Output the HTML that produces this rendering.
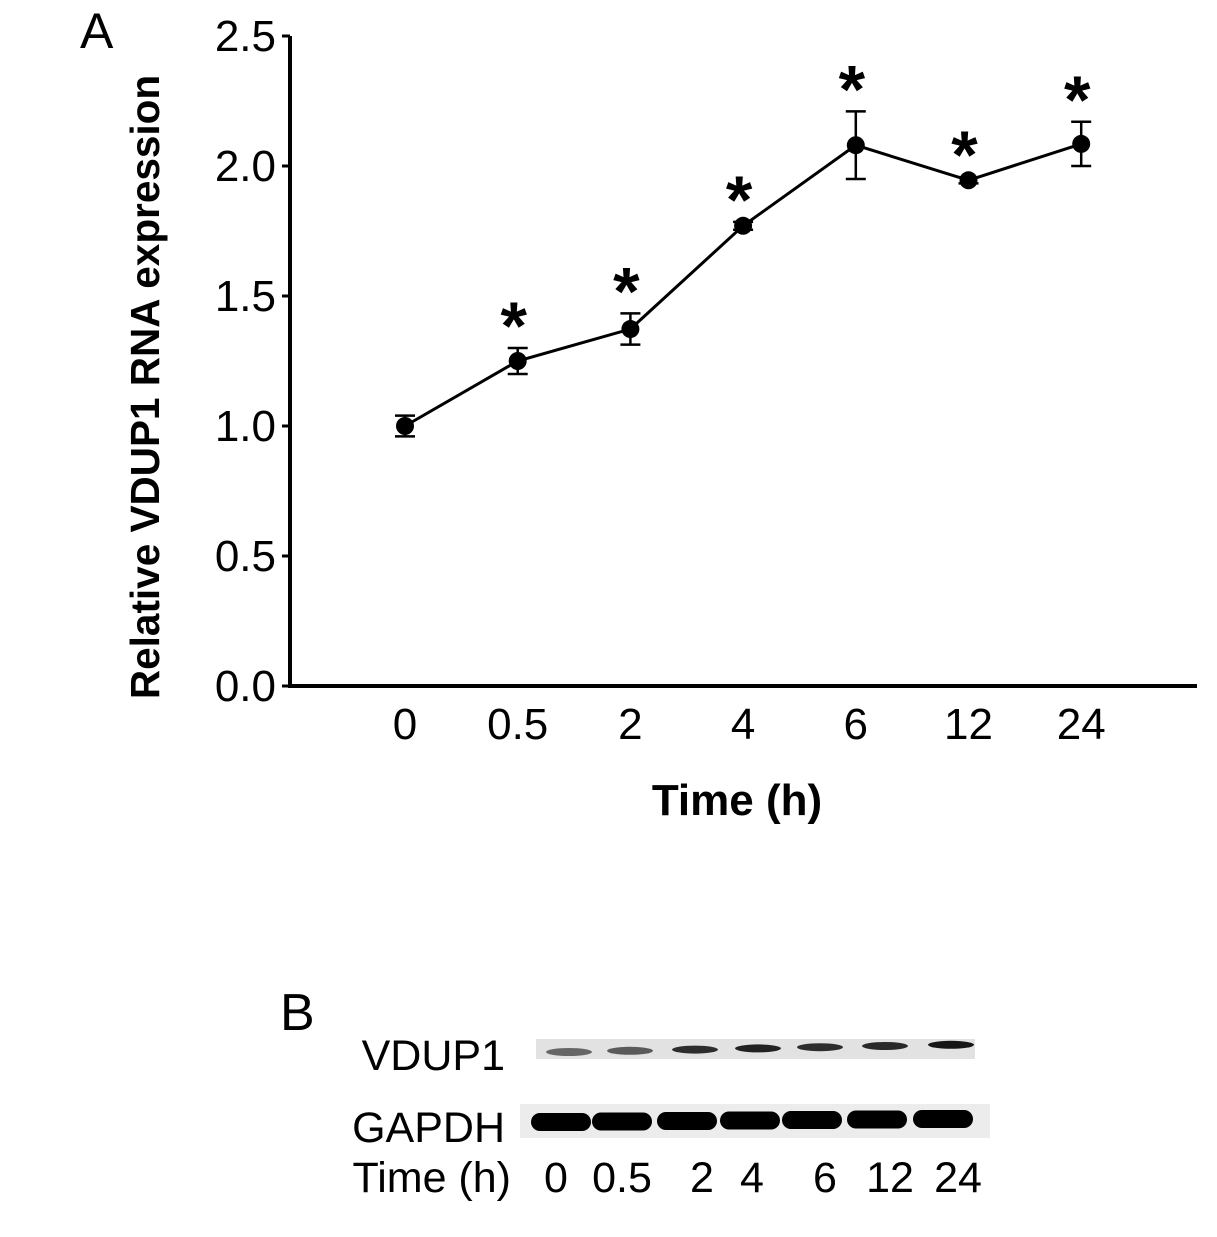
<!DOCTYPE html>
<html><head><meta charset="utf-8"><style>
body{margin:0;background:#fff;}
svg{display:block;font-family:"Liberation Sans",Arial,sans-serif;}
</style></head><body>
<svg id="chart" width="1217" height="1237" viewBox="0 0 1217 1237">
<text x="80" y="48" font-size="50">A</text>
<g id="axes"></g>
<g id="series"></g>
<text transform="translate(159,387) rotate(-90)" text-anchor="middle" font-size="40.5" font-weight="bold">Relative VDUP1 RNA expression</text>
<text x="737" y="815" text-anchor="middle" font-size="44" font-weight="bold">Time (h)</text>

<text x="280" y="1030" font-size="52">B</text>
<text x="505" y="1070" text-anchor="end" font-size="43">VDUP1</text>
<text x="505" y="1142" text-anchor="end" font-size="43">GAPDH</text>
<text x="511" y="1192" text-anchor="end" font-size="43">Time (h)</text>
<rect x="536" y="1039" width="439" height="20" fill="#e2e2e2"/>
<rect x="520" y="1104" width="470" height="34" fill="#ececec"/>
<g id="blot"></g>
</svg>
<script>
const categories=["0","0.5","2","4","6","12","24"];
const means=[1.0,1.25,1.373,1.77,2.08,1.945,2.085];
const errors=[0.04,0.05,0.06,0.015,0.13,0.012,0.085];
const significant=[false,true,true,true,true,true,true];
const yTicks=[0,0.5,1.0,1.5,2.0,2.5];
const yTickLabels=["0.0","0.5","1.0","1.5","2.0","2.5"];
const blotLanes=["0","0.5","2","4","6","12","24"];
const vdup1Intensity=[0.55,0.6,0.8,0.85,0.8,0.82,0.9];
const gapdhIntensity=[1,1,1,1,1,1,1];

const NS="http://www.w3.org/2000/svg";
const x0=290,x1=1197,yTop=36,yBot=686;
const y=v=>yBot-(v/2.5)*(yBot-yTop);
const x=i=>405+i*112.7;
function mk(tag,attrs,parent){const e=document.createElementNS(NS,tag);for(const k in attrs)e.setAttribute(k,attrs[k]);parent.appendChild(e);return e;}
const axes=document.getElementById('axes'),series=document.getElementById('series'),blot=document.getElementById('blot');

let e=mk('line',{x1:x0,y1:yTop,x2:x0,y2:yBot+2,stroke:'#000','stroke-width':4},axes);


e=mk('line',{x1:x0-2,y1:yBot,x2:x1,y2:yBot,stroke:'#000','stroke-width':4},axes);


yTicks.forEach((v,i)=>{
 let t=mk('line',{x1:x0-8,y1:y(v),x2:x0,y2:y(v),stroke:'#000','stroke-width':3},axes);
 
 
 let l=mk('text',{x:x0-14,y:y(v)+15,'text-anchor':'end','font-size':44},axes);
 l.textContent=yTickLabels[i];
 
 
});
categories.forEach((c,i)=>{
 let l=mk('text',{x:x(i),y:739,'text-anchor':'middle','font-size':44},axes);
 l.textContent=c;
 
 
});
let pts=means.map((m,i)=>x(i)+','+y(m)).join(' ');
e=mk('polyline',{points:pts,fill:'none',stroke:'#000','stroke-width':3},series);


means.forEach((m,i)=>{
 const g=mk('g',{},series);
 
 
 const cx=x(i),hi=y(m+errors[i]),lo=y(m-errors[i]);
 mk('line',{x1:cx,y1:hi,x2:cx,y2:lo,stroke:'#000','stroke-width':2.5},g);
 mk('line',{x1:cx-10,y1:hi,x2:cx+10,y2:hi,stroke:'#000','stroke-width':2.5},g);
 mk('line',{x1:cx-10,y1:lo,x2:cx+10,y2:lo,stroke:'#000','stroke-width':2.5},g);
 mk('circle',{cx:cx,cy:y(m),r:9,fill:'#000'},g);
 if(significant[i]){
  let s=mk('text',{x:cx-4,y:hi+1,'text-anchor':'middle','font-size':68,'font-weight':'bold'},g);
  s.textContent='*';
  
  
 }
});
const laneX=[561,622,687,750,812,877,943];
blotLanes.forEach((c,i)=>{
 let b=mk('ellipse',{cx:laneX[i]+8,cy:1052-i*1.2,rx:23,ry:4,fill:'#000',opacity:vdup1Intensity[i]},blot);
 
 
 let g=mk('rect',{x:laneX[i]-30,y:1113-i*0.5,width:60,height:18,rx:9,fill:'#000',opacity:gapdhIntensity[i]},blot);
 
 
 let l=mk('text',{x:[556,622,702,752,825,890,958][i],y:1192,'text-anchor':'middle','font-size':43},blot);
 l.textContent=c;
 
 
});
</script>
</body></html>
